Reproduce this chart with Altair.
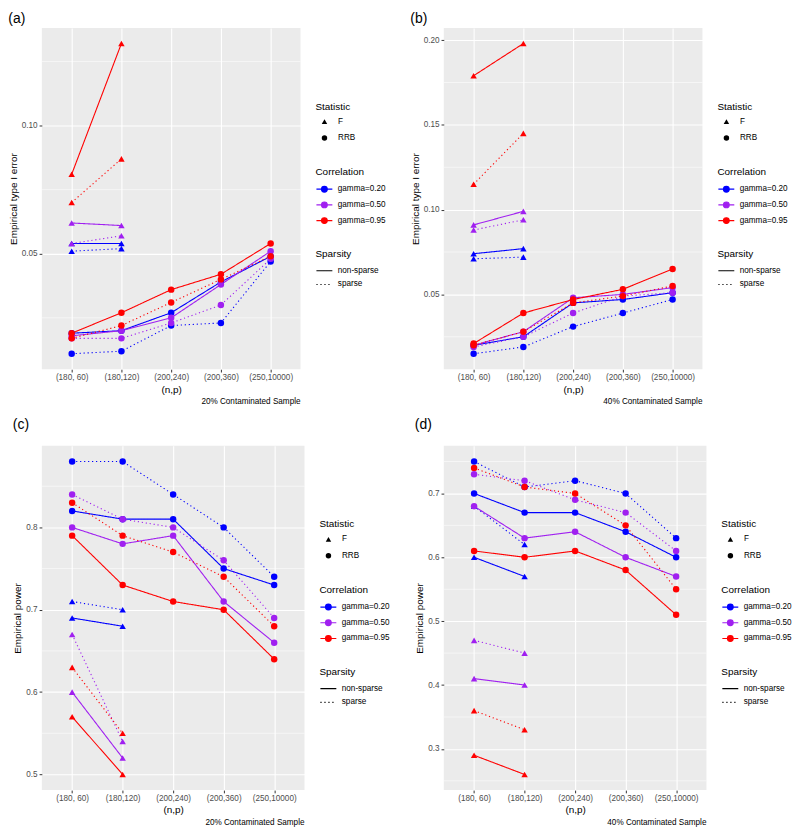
import altair as alt
import pandas as pd

# ---------------- data ----------------
NP = ["(180, 60)", "(180,120)", "(200,240)", "(200,360)", "(250,10000)"]
GAMMAS = ["gamma=0.20", "gamma=0.50", "gamma=0.95"]
COLORS = ["#0000FF", "#A020F0", "#FF0000"]
STATS = ["F", "RRB"]
SPARS = ["non-sparse", "sparse"]

# series order: statistic x gamma x sparsity
SERIES_STAT = ["F"] * 6 + ["RRB"] * 6
SERIES_GAMMA = ["gamma=0.20", "gamma=0.20", "gamma=0.50", "gamma=0.50", "gamma=0.95", "gamma=0.95"] * 2
SERIES_SPARS = ["non-sparse", "sparse"] * 6

A_VALUES = [
    [0.054, 0.054], [0.051, 0.052],
    [0.062, 0.061], [0.054, 0.057],
    [0.081, 0.132], [0.070, 0.087],
    [0.019, 0.020, 0.027, 0.039, 0.049], [0.011, 0.012, 0.022, 0.023, 0.047],
    [0.018, 0.020, 0.025, 0.038, 0.051], [0.017, 0.017, 0.023, 0.030, 0.048],
    [0.019, 0.027, 0.036, 0.042, 0.054], [0.017, 0.022, 0.031, 0.040, 0.049],
]
B_VALUES = [
    [0.074, 0.077], [0.071, 0.072],
    [0.091, 0.099], [0.088, 0.094],
    [0.179, 0.198], [0.115, 0.145],
    [0.020, 0.025, 0.045, 0.047, 0.051], [0.015, 0.019, 0.031, 0.039, 0.047],
    [0.020, 0.028, 0.048, 0.050, 0.054], [0.019, 0.025, 0.039, 0.049, 0.051],
    [0.021, 0.039, 0.047, 0.053, 0.065], [0.020, 0.028, 0.045, 0.049, 0.055],
]
C_VALUES = [
    [0.69, 0.68], [0.71, 0.70],
    [0.60, 0.52], [0.67, 0.54],
    [0.57, 0.50], [0.63, 0.55],
    [0.82, 0.81, 0.81, 0.75, 0.73], [0.88, 0.88, 0.84, 0.80, 0.74],
    [0.80, 0.78, 0.79, 0.71, 0.66], [0.84, 0.81, 0.80, 0.76, 0.69],
    [0.79, 0.73, 0.71, 0.70, 0.64], [0.83, 0.79, 0.77, 0.74, 0.68],
]
D_VALUES = [
    [0.60, 0.57], [0.68, 0.62],
    [0.41, 0.40], [0.47, 0.45],
    [0.29, 0.26], [0.36, 0.33],
    [0.70, 0.67, 0.67, 0.64, 0.60], [0.75, 0.71, 0.72, 0.70, 0.63],
    [0.68, 0.63, 0.64, 0.60, 0.57], [0.73, 0.72, 0.69, 0.67, 0.61],
    [0.61, 0.60, 0.61, 0.58, 0.51], [0.74, 0.71, 0.70, 0.65, 0.55],
]

A_MAJOR = [0.05, 0.10]
A_MINOR = [0.025, 0.075, 0.125]
B_MAJOR = [0.05, 0.10, 0.15, 0.20]
B_MINOR = [0.025, 0.075, 0.125, 0.175]
C_MAJOR = [0.5, 0.6, 0.7, 0.8]
C_MINOR = [0.55, 0.65, 0.75, 0.85]
D_MAJOR = [0.3, 0.4, 0.5, 0.6, 0.7]
D_MINOR = [0.25, 0.35, 0.45, 0.55, 0.65, 0.75]

FONT = "Liberation Sans"
LEGEND_LINE_DOT = ("M-1,0H1M-0.36,0A0.36,0.36,0,1,1,0.36,0A0.36,0.36,0,1,1,-0.36,0Z"
                   "M-0.2,0A0.2,0.2,0,1,1,0.2,0A0.2,0.2,0,1,1,-0.2,0Z")


def build_df(values):
    rows = []
    for s, g, sp, vals in zip(SERIES_STAT, SERIES_GAMMA, SERIES_SPARS, values):
        for i, v in enumerate(vals):
            rows.append({"np": NP[i], "idx": i, "value": v, "Statistic": s,
                         "Correlation": g, "Sparsity": sp,
                         "series": s + "|" + g + "|" + sp})
    return pd.DataFrame(rows)


def panel(values, majors, minors, fmt, ytitle, tag, caption, width, height, tag_offset):
    df = build_df(values)
    vals = [v for vs in values for v in vs]
    lo, hi = min(vals), max(vals)
    pad = (hi - lo) * 0.05
    yscale = alt.Scale(domain=[lo - pad, hi + pad], nice=False, zero=False)
    yaxis = alt.Axis(title=ytitle, values=majors, format=fmt)
    x = alt.X("np:N", sort=NP, scale=alt.Scale(type="point", padding=0.6),
              axis=alt.Axis(title="(n,p)", labelAngle=0))
    y = alt.Y("value:Q", scale=yscale, axis=yaxis)
    lx = width + 15
    color_legend = alt.Legend(orient="none", legendX=lx, legendY=140,
                              title="Correlation", symbolType=LEGEND_LINE_DOT,
                              symbolSize=256, symbolStrokeWidth=1.2, rowPadding=0.8,
                              labelOffset=4.5, titlePadding=3)
    color = alt.Color("Correlation:N", scale=alt.Scale(domain=GAMMAS, range=COLORS),
                      legend=color_legend)
    shape = alt.Shape("Statistic:N",
                      scale=alt.Scale(domain=STATS, range=["triangle-up", "circle"]),
                      legend=alt.Legend(orient="none", legendX=lx, legendY=74,
                                        title="Statistic", symbolSize=30,
                                        symbolOffset=5.0, labelOffset=9.5,
                                        rowPadding=4.4))
    dash = alt.StrokeDash("Sparsity:N",
                          scale=alt.Scale(domain=SPARS, range=[[1, 0], [1.2, 2.8]]),
                          legend=alt.Legend(orient="none", legendX=lx, legendY=222,
                                            title="Sparsity", symbolType="stroke",
                                            symbolSize=256, symbolStrokeWidth=1.2,
                                            rowPadding=0.8, labelOffset=4.5,
                                            titlePadding=3))

    minor = alt.Chart(pd.DataFrame({"value": minors})).mark_rule(
        color="white", strokeWidth=0.55).encode(
        y=alt.Y("value:Q", scale=yscale, axis=yaxis))
    lines = alt.Chart(df).mark_line(strokeWidth=1.1).encode(
        x=x, y=y, color=color, strokeDash=dash, detail="series:N",
        order=alt.Order("idx:Q"))
    points = alt.Chart(df).mark_point(filled=True, size=42, opacity=1).encode(
        x=x, y=y, color=color, shape=shape)

    layered = alt.layer(minor, lines, points).properties(
        width=width, height=height,
        title=alt.Title(caption, orient="bottom", anchor="end", frame="group",
                        fontSize=8.2, fontWeight="normal", font=FONT,
                        color="black", offset=4))
    return alt.vconcat(layered, title=alt.Title(
        tag, anchor="start", frame="bounds", fontSize=14, fontWeight="normal",
        font=FONT, color="black", offset=tag_offset))


W1, W2 = 260, 264
H1, H2 = 343, 346

pa = panel(A_VALUES, A_MAJOR, A_MINOR, ".2f", "Empirical type I error", "(a)",
           "20% Contaminated Sample", W1, H1, 2)
pb = panel(B_VALUES, B_MAJOR, B_MINOR, ".2f", "Empirical type I error", "(b)",
           "40% Contaminated Sample", W1, H1, 2)
pc = panel(C_VALUES, C_MAJOR, C_MINOR, ".1f", "Empirical power", "(c)",
           "20% Contaminated Sample", W2, H2, 14)
pd_ = panel(D_VALUES, D_MAJOR, D_MINOR, ".1f", "Empirical power", "(d)",
            "40% Contaminated Sample", W2, H2, 14)

IND = dict(x="independent", y="independent", color="independent",
           shape="independent", strokeDash="independent")

row1 = alt.hconcat(pa, pb, spacing=24).resolve_scale(**IND)
row2 = alt.hconcat(pc, pd_, spacing=24).resolve_scale(**IND)

chart = alt.vconcat(row1, row2, spacing=12).resolve_scale(**IND).properties(
    padding={"left": 0, "top": 2, "right": 0, "bottom": 0}, background="white"
).configure_view(
    fill="#EBEBEB", stroke=None
).configure_axis(
    grid=True, gridColor="white", gridWidth=1.1, domain=False,
    tickColor="#333333", tickSize=2.75, tickWidth=1,
    labelColor="#4D4D4D", labelFont=FONT, labelFontSize=8.2, labelPadding=2,
    titleFont=FONT, titleFontSize=10, titleFontWeight="normal", titleColor="black",
    titlePadding=3
).configure_legend(
    titleFont=FONT, titleFontSize=10, titleFontWeight="normal", titleColor="black",
    labelFont=FONT, labelFontSize=8.2, labelColor="black", titlePadding=6,
    symbolBaseFillColor="black", symbolBaseStrokeColor="black", padding=0
).configure_title(font=FONT)

chart.save("out.html", embed_options={"renderer": "svg", "actions": False})
